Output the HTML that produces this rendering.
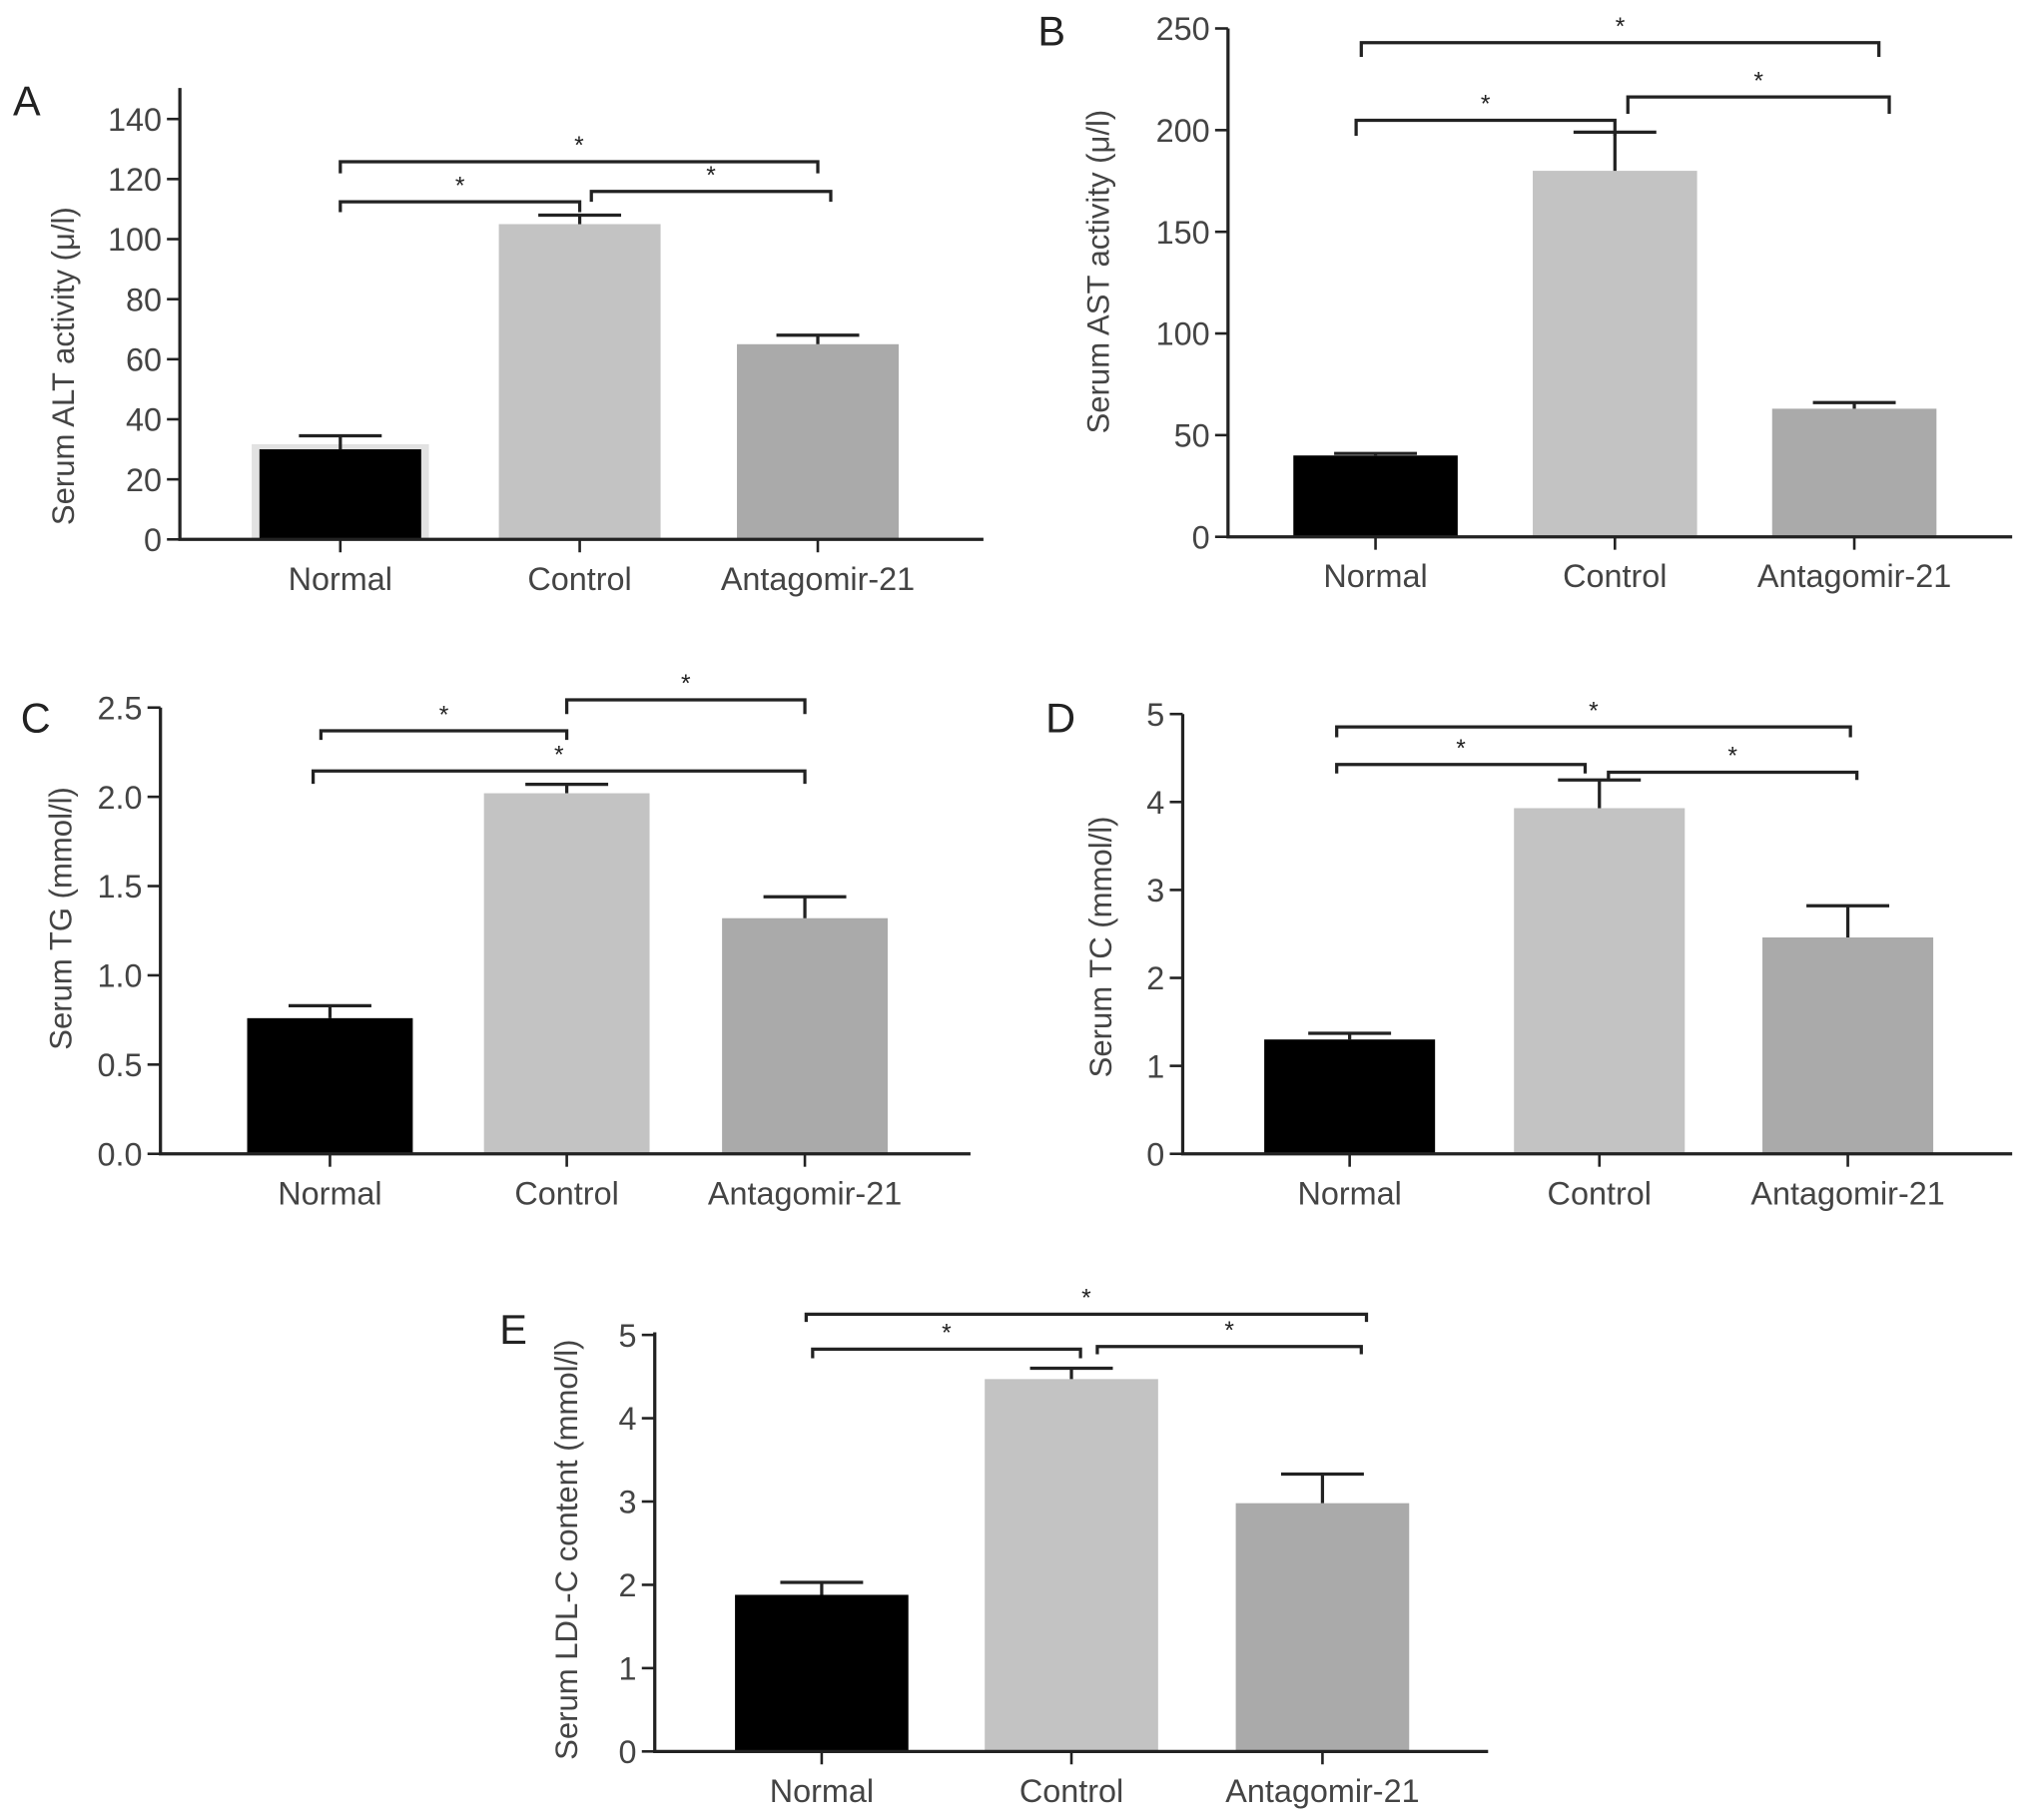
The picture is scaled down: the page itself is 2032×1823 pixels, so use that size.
<!DOCTYPE html>
<html><head><meta charset="utf-8"><style>
html,body{margin:0;padding:0;background:#fff;}
svg{display:block;font-family:"Liberation Sans",sans-serif;}
</style></head><body>
<svg id="fig" width="2032" height="1823" viewBox="0 0 1568 1407" preserveAspectRatio="none" xmlns="http://www.w3.org/2000/svg"></svg>
<script>
const categories = ["Normal","Control","Antagomir-21"];
const altValues = [30,105,65];
const altErrors = [34.5,108,68];
const altTicks = [0,20,40,60,80,100,120,140];
const astValues = [40,180,63];
const astErrors = [41,199,66];
const astTicks = [0,50,100,150,200,250];
const tgValues = [0.76,2.02,1.32];
const tgErrors = [0.83,2.07,1.44];
const tgTicks = ["0.0","0.5","1.0","1.5","2.0","2.5"];
const tcValues = [1.3,3.93,2.46];
const tcErrors = [1.37,4.25,2.82];
const tcTicks = [0,1,2,3,4,5];
const ldlValues = [1.88,4.47,2.98];
const ldlErrors = [2.03,4.6,3.33];
const ldlTicks = [0,1,2,3,4,5];
const colors = ["#000000","#c3c3c3","#aaaaaa"];

const svg = document.getElementById('fig');
const NS = "http://www.w3.org/2000/svg";
function mk(tag, attrs, parent){const e=document.createElementNS(NS,tag);for(const k in attrs)e.setAttribute(k,attrs[k]);(parent||svg).appendChild(e);return e;}

function panel(cfg){
  const g = mk('g',{});
  
  
  const ymax = cfg.max;
  const y = v => cfg.base - (v/ymax)*(cfg.base-cfg.top);
  const L = mk('text',{x:cfg.lx,y:cfg.ly,'font-size':32,fill:'#222'},g); L.textContent=cfg.letter;
  
  
  cfg.values.forEach((v,i)=>{
    const cx = cfg.cx[i];
    if(cfg.halo && i===0){
      const h = mk('rect',{x:cx-cfg.bw/2-6,y:y(v)-4,width:cfg.bw+12,height:cfg.base-y(v)+4,fill:'#e2e2e2'},g);
      
      
    }
    const r = mk('rect',{x:cx-cfg.bw/2,y:y(v),width:cfg.bw,height:cfg.base-y(v),fill:colors[i]},g);
    
    
    const e = cfg.errors[i];
    const el = mk('path',{d:`M${cx},${y(v)}V${y(e)}M${cx-32},${y(e)}H${cx+32}`,stroke:'#222','stroke-width':2.5,fill:'none'},g);
    
    
    const t = mk('text',{x:cx,y:cfg.base+39,'font-size':25,fill:'#444','text-anchor':'middle'},g); t.textContent=categories[i];
    
    
    mk('line',{x1:cx,y1:cfg.base,x2:cx,y2:cfg.base+10,stroke:'#222','stroke-width':2},g);
  });
  const ax = mk('path',{d:`M${cfg.ax},${cfg.axTop}V${cfg.base}H${cfg.axEnd}`,stroke:'#222','stroke-width':2.5,fill:'none'},g);
  
  
  cfg.ticks.forEach(tk=>{
    const v=parseFloat(tk);
    mk('line',{x1:cfg.ax-10,y1:y(v),x2:cfg.ax,y2:y(v),stroke:'#222','stroke-width':2},g);
    const t=mk('text',{x:cfg.ax-14,y:y(v)+9,'font-size':25,fill:'#444','text-anchor':'end'},g); t.textContent=tk;
    
    
  });
  const tt = mk('text',{x:0,y:0,'font-size':24,fill:'#444','text-anchor':'middle',transform:`translate(${cfg.tx},${cfg.ty}) rotate(-90)`},g);
  tt.textContent=cfg.title;
  
  
  cfg.br.forEach(b=>{
    const p=mk('path',{d:`M${b[0]},${b[3]}V${b[2]}H${b[1]}V${b[3]}`,stroke:'#222','stroke-width':2.5,fill:'none'},g);
    
    
    const s=mk('text',{x:(b[0]+b[1])/2,y:b[2]-6,'font-size':19,fill:'#222','text-anchor':'middle'},g); s.textContent='*';
    
    
  });
}
panel({letter:'A',lx:10,ly:89,halo:true,values:altValues,errors:altErrors,ticks:altTicks,max:140,top:92,base:417,ax:139,axTop:68,axEnd:760,cx:[263,448,632],bw:125,tx:57,ty:283,title:'Serum ALT activity (μ/l)',
  br:[[263,632,125,134],[263,448,156,164],[457,642,148,156]]});
panel({letter:'B',lx:802,ly:35,values:astValues,errors:astErrors,ticks:astTicks,max:250,top:22,base:415,ax:949,axTop:22,axEnd:1555,cx:[1063,1248,1433],bw:127,tx:857,ty:210,title:'Serum AST activity (μ/l)',
  br:[[1052,1452,33,44],[1048,1248,93,105],[1258,1460,75,88]]});
panel({letter:'C',lx:16,ly:566,values:tgValues,errors:tgErrors,ticks:tgTicks,max:2.5,top:547,base:892,ax:124,axTop:547,axEnd:750,cx:[255,438,622],bw:128,tx:55,ty:710,title:'Serum TG (mmol/l)',
  br:[[248,438,565,572],[438,622,541,552],[242,622,596,606]]});
panel({letter:'D',lx:808,ly:566,values:tcValues,errors:tcErrors,ticks:tcTicks,max:5,top:552,base:892,ax:914,axTop:552,axEnd:1555,cx:[1043,1236,1428],bw:132,tx:859,ty:732,title:'Serum TC (mmol/l)',
  br:[[1033,1430,562,570],[1033,1225,591,598],[1243,1435,597,603]]});
panel({letter:'E',lx:386,ly:1039,values:ldlValues,errors:ldlErrors,ticks:ldlTicks,max:5,top:1032,base:1354,ax:506,axTop:1030,axEnd:1150,cx:[635,828,1022],bw:134,tx:446,ty:1198,title:'Serum LDL-C content (mmol/l)',
  br:[[623,1056,1016,1022],[628,835,1043,1050],[848,1052,1041,1047]]});
</script>
</body></html>
